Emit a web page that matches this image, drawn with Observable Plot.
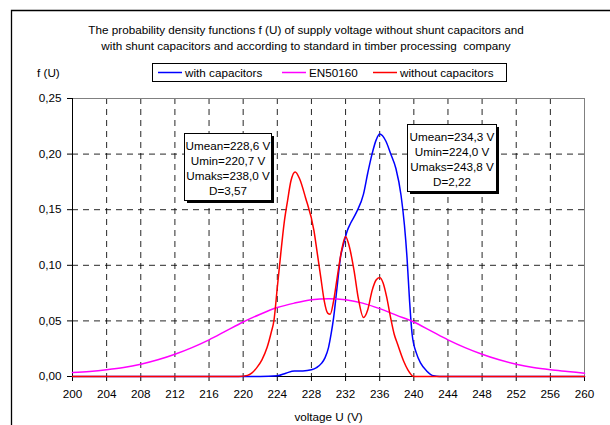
<!DOCTYPE html>
<html>
<head>
<meta charset="utf-8">
<script src="https://cdn.jsdelivr.net/npm/d3@7"></script>
<script src="https://cdn.jsdelivr.net/npm/@observablehq/plot@0.6"></script>
<style>
  html, body { margin: 0; padding: 0; background: #fff; }
  #chart { width: 610px; height: 425px; overflow: hidden; }
</style>
</head>
<body>
<div id="chart"></div>
<script>
// ---- Data ----
const titleLines = [
  "The probability density functions f (U) of supply voltage without shunt capacitors and",
  "with shunt capacitors and according to standard in timber processing  company"
];
const yLabel = "f (U)";
const xLabel = "voltage U (V)";
const seriesNames = ["with capacitors", "EN50160", "without capacitors"];
const seriesColors = ["#0000FF", "#FF00FF", "#FF0000"];

const xTicks = [200, 204, 208, 212, 216, 220, 224, 228, 232, 236, 240, 244, 248, 252, 256, 260];
const yTicks = [0, 0.05, 0.10, 0.15, 0.20, 0.25];

// with capacitors
const uWith = [200, 222, 224, 225, 226, 227, 228, 228.6, 229.2, 229.6, 230.0, 230.3, 230.6, 231.0, 231.4, 231.8, 232.2, 232.6, 233.3, 234.1, 234.6, 235.1, 235.6, 236.0, 236.7, 237.3, 237.9, 238.5, 238.9, 239.2, 239.5, 239.8, 240.3, 240.8, 241.5, 242.3, 243, 260];
const fWith = [0, 0, 0.0006, 0.003, 0.005, 0.005, 0.006, 0.008, 0.012, 0.017, 0.026, 0.038, 0.053, 0.080, 0.107, 0.120, 0.131, 0.138, 0.148, 0.164, 0.183, 0.200, 0.213, 0.218, 0.212, 0.200, 0.187, 0.163, 0.136, 0.107, 0.068, 0.038, 0.021, 0.012, 0.005, 0.0006, 0, 0];

// EN50160
const uStd = [200, 202, 204, 206, 208, 210, 212, 214, 216, 218, 220, 222, 224, 226, 228, 230, 232, 234, 236, 238, 240, 242, 244, 246, 248, 250, 252, 254, 256, 258, 260];
const fStd = [0.0035, 0.0045, 0.006, 0.008, 0.011, 0.015, 0.020, 0.026, 0.033, 0.041, 0.049, 0.056, 0.062, 0.066, 0.069, 0.070, 0.069, 0.066, 0.061, 0.055, 0.049, 0.041, 0.033, 0.026, 0.020, 0.015, 0.011, 0.008, 0.006, 0.0045, 0.003];

// without capacitors
const uWithout = [200, 219.5, 220.5, 221, 221.6, 222.2, 222.8, 223.3, 223.6, 224.0, 224.4, 224.8, 225.2, 225.6, 226.1, 226.6, 227.3, 228.3, 228.7, 229.1, 229.5, 229.9, 230.2, 230.6, 231.0, 231.5, 232.0, 232.4, 233.0, 233.5, 234.1, 234.6, 235.1, 235.6, 236.0, 236.4, 236.8, 237.3, 237.7, 238.1, 238.8, 239.3, 240.0, 260];
const fWithout = [0, 0, 0.001, 0.003, 0.008, 0.015, 0.026, 0.040, 0.050, 0.080, 0.110, 0.138, 0.158, 0.176, 0.184, 0.178, 0.161, 0.131, 0.110, 0.089, 0.068, 0.057, 0.056, 0.068, 0.088, 0.112, 0.126, 0.118, 0.095, 0.070, 0.053, 0.060, 0.077, 0.087, 0.089, 0.084, 0.072, 0.052, 0.038, 0.029, 0.014, 0.006, 0, 0];

const noteWithout = ["Umean=228,6 V", "Umin=220,7 V", "Umaks=238,0 V", "D=3,57"];
const noteWith = ["Umean=234,3 V", "Umin=224,0 V", "Umaks=243,8 V", "D=2,22"];

// ---- Build table ----
const rows = [];
[[uWith, fWith], [uStd, fStd], [uWithout, fWithout]].forEach(([us, fs], i) => {
  us.forEach((u, j) => rows.push({series: seriesNames[i], u, f: fs[j]}));
});

const fmtY = d => d.toFixed(2).replace(".", ",");
const FONT = "'Liberation Sans', Arial, sans-serif";
const FS = 11.7;

const chart = Plot.plot({
  width: 610,
  height: 425,
  marginLeft: 72,
  marginRight: 26,
  marginTop: 98,
  marginBottom: 49,
  style: {fontFamily: FONT, fontSize: FS + "px", color: "#000", background: "#fff"},
  x: {domain: [200, 260]},
  y: {domain: [0, 0.25]},
  color: {domain: seriesNames, range: seriesColors},
  marks: [
    Plot.gridX(xTicks.slice(1, -1), {stroke: "#000", strokeOpacity: 0.85, strokeDasharray: "6,5"}),
    Plot.gridY(yTicks.slice(1, -1), {stroke: "#000", strokeOpacity: 0.85, strokeDasharray: "6,5"}),
    Plot.ruleY([0.25], {stroke: "#808080"}),
    Plot.ruleX([260], {stroke: "#808080"}),
    Plot.axisX({ticks: xTicks, tickSize: 5, tickPadding: 8, label: null, fontSize: FS}),
    Plot.axisY({ticks: yTicks, tickSize: 5, tickPadding: 6, tickFormat: fmtY, label: null, fontSize: FS}),
    Plot.ruleX([200], {stroke: "#000"}),
    Plot.ruleY([0], {stroke: "#000"}),
    Plot.line(rows, {x: "u", y: "f", z: "series", stroke: "series", strokeWidth: 1.5, curve: "monotone-x"}),
    Plot.text([xLabel], {frameAnchor: "bottom", dy: 41, lineAnchor: "middle", fontSize: FS})
  ]
});

document.getElementById("chart").appendChild(chart);

// ---- Decorations (title, legend, notes) ----
const svg = d3.select(chart);

const g = svg.append("g").attr("font-family", FONT).attr("font-size", FS).attr("fill", "#000")
  .attr("text-anchor", "start");

// outer chart-area border
g.append("path").attr("d", "M11.5,425 V10.5 H610").attr("fill", "none")
  .attr("stroke", "#000").attr("stroke-width", 1.3);

g.selectAll("text.title").data(titleLines).join("text")
  .attr("x", 306).attr("y", (d, i) => 30 + i * 16).attr("dy", "0.35em")
  .attr("text-anchor", "middle").text(d => d);

g.append("text").attr("x", 37).attr("y", 73).attr("dy", "0.35em").attr("text-anchor", "start").text(yLabel);

// legend
const leg = g.append("g");
leg.append("rect").attr("x", 152.5).attr("y", 63.5).attr("width", 354).attr("height", 18)
  .attr("fill", "#fff").attr("stroke", "#000");
const legX = [158, 282, 373];
seriesNames.forEach((name, i) => {
  leg.append("line").attr("x1", legX[i]).attr("x2", legX[i] + 24)
    .attr("y1", 72.5).attr("y2", 72.5).attr("stroke", seriesColors[i]).attr("stroke-width", 1.5);
  leg.append("text").attr("x", legX[i] + 27).attr("y", 72.5).attr("dy", "0.35em")
    .attr("text-anchor", "start").text(name);
});

// note boxes
function note(lines, x, y, w, h) {
  const n = g.append("g");
  n.append("rect").attr("x", x + 3).attr("y", y + 3).attr("width", w).attr("height", h).attr("fill", "#000");
  n.append("rect").attr("x", x + 0.5).attr("y", y + 0.5).attr("width", w).attr("height", h)
    .attr("fill", "#fff").attr("stroke", "#000");
  lines.forEach((t, i) => {
    n.append("text").attr("x", x + w / 2 + 0.5).attr("y", y + 12.5 + i * 15.2).attr("dy", "0.35em")
      .attr("text-anchor", "middle").text(t);
  });
}
note(noteWithout, 184, 133, 87, 67);
note(noteWith, 407, 124, 89, 67);
</script>
</body>
</html>
